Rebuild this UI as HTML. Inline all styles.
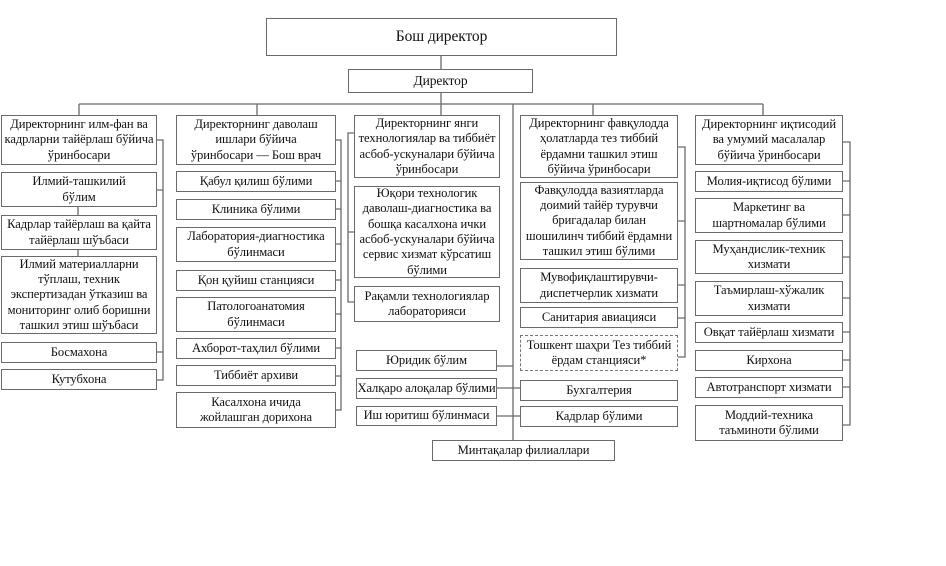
<!DOCTYPE html>
<html><head><meta charset="utf-8"><style>
body{margin:0;background:#fff;}
#c{position:relative;width:946px;height:566px;overflow:hidden;font-family:"Liberation Serif","DejaVu Serif",serif;color:#111;}
.b{position:absolute;box-sizing:border-box;border:1.3px solid #6a6a6a;display:flex;align-items:center;justify-content:center;text-align:center;font-size:12.6px;line-height:15.3px;background:#fff;padding:0;white-space:nowrap;letter-spacing:-0.1px;}
.d{border:1.3px dashed #777;}
svg{position:absolute;left:0;top:0;}
</style></head><body><div id="c">
<svg width="946" height="566" stroke="#6a6a6a" stroke-width="1.3" fill="none">
<path d="M441 56V69M441 93V104M79 104H763M79 104V115M257 104V115M441 104V115M593 104V115M763 104V115"/>
<path d="M513 104V440"/>
<path d="M78 207V215M78 250V256"/>
<path d="M157 140H163V380H157M157 190H163M157 352H163"/>
<path d="M336 140H341V410H336M336 181H341M336 209H341M336 244H341M336 280H341M336 314H341M336 348H341M336 376H341"/>
<path d="M354 133H348V302H354M348 232H354"/>
<path d="M678 147H685V357H678M678 221H685M678 285H685M678 318H685"/>
<path d="M497 366H513M497 388H520M497 416H520"/>
<path d="M843 142H850V425H843M843 181H850M843 215H850M843 257H850M843 298H850M843 332H850M843 360H850M843 387H850"/>
</svg>
<div class="b" style="left:266px;top:18px;width:351px;height:38px;font-size:15.5px">Бош директор</div>
<div class="b" style="left:348px;top:69px;width:185px;height:24px;font-size:13.5px">Директор</div>

<div class="b" style="left:1px;top:115px;width:156px;height:50px">Директорнинг илм-фан ва<br>кадрларни тайёрлаш бўйича<br>ўринбосари</div>
<div class="b" style="left:1px;top:172px;width:156px;height:35px">Илмий-ташкилий<br>бўлим</div>
<div class="b" style="left:1px;top:215px;width:156px;height:35px">Кадрлар тайёрлаш ва қайта<br>тайёрлаш шўъбаси</div>
<div class="b" style="left:1px;top:256px;width:156px;height:78px">Илмий материалларни<br>тўплаш, техник<br>экспертизадан ўтказиш ва<br>мониторинг олиб боришни<br>ташкил этиш шўъбаси</div>
<div class="b" style="left:1px;top:342px;width:156px;height:21px">Босмахона</div>
<div class="b" style="left:1px;top:369px;width:156px;height:21px">Кутубхона</div>

<div class="b" style="left:176px;top:115px;width:160px;height:50px">Директорнинг даволаш<br>ишлари бўйича<br>ўринбосари — Бош врач</div>
<div class="b" style="left:176px;top:171px;width:160px;height:21px">Қабул қилиш бўлими</div>
<div class="b" style="left:176px;top:199px;width:160px;height:21px">Клиника бўлими</div>
<div class="b" style="left:176px;top:227px;width:160px;height:35px">Лаборатория-диагностика<br>бўлинмаси</div>
<div class="b" style="left:176px;top:270px;width:160px;height:21px">Қон қуйиш станцияси</div>
<div class="b" style="left:176px;top:297px;width:160px;height:35px">Патологоанатомия<br>бўлинмаси</div>
<div class="b" style="left:176px;top:338px;width:160px;height:21px">Ахборот-таҳлил бўлими</div>
<div class="b" style="left:176px;top:365px;width:160px;height:21px">Тиббиёт архиви</div>
<div class="b" style="left:176px;top:392px;width:160px;height:36px">Касалхона ичида<br>жойлашган дорихона</div>

<div class="b" style="left:354px;top:115px;width:146px;height:63px">Директорнинг янги<br>технологиялар ва тиббиёт<br>асбоб-ускуналари бўйича<br>ўринбосари</div>
<div class="b" style="left:354px;top:186px;width:146px;height:92px">Юқори технологик<br>даволаш-диагностика ва<br>бошқа касалхона ички<br>асбоб-ускуналари бўйича<br>сервис хизмат кўрсатиш<br>бўлими</div>
<div class="b" style="left:354px;top:286px;width:146px;height:36px">Рақамли технологиялар<br>лабораторияси</div>

<div class="b" style="left:520px;top:115px;width:158px;height:63px">Директорнинг фавқулодда<br>ҳолатларда тез тиббий<br>ёрдамни ташкил этиш<br>бўйича ўринбосари</div>
<div class="b" style="left:520px;top:182px;width:158px;height:78px">Фавқулодда вазиятларда<br>доимий тайёр турувчи<br>бригадалар билан<br>шошилинч тиббий ёрдамни<br>ташкил этиш бўлими</div>
<div class="b" style="left:520px;top:268px;width:158px;height:35px">Мувофиқлаштирувчи-<br>диспетчерлик хизмати</div>
<div class="b" style="left:520px;top:307px;width:158px;height:21px">Санитария авиацияси</div>
<div class="b d" style="left:520px;top:335px;width:158px;height:36px">Тошкент шаҳри Тез тиббий<br>ёрдам станцияси*</div>

<div class="b" style="left:356px;top:350px;width:141px;height:21px">Юридик бўлим</div>
<div class="b" style="left:356px;top:378px;width:141px;height:21px">Халқаро алоқалар бўлими</div>
<div class="b" style="left:356px;top:406px;width:141px;height:20px">Иш юритиш бўлинмаси</div>
<div class="b" style="left:520px;top:380px;width:158px;height:21px">Бухгалтерия</div>
<div class="b" style="left:520px;top:406px;width:158px;height:21px">Кадрлар бўлими</div>
<div class="b" style="left:432px;top:440px;width:183px;height:21px">Минтақалар филиаллари</div>

<div class="b" style="left:695px;top:115px;width:148px;height:50px">Директорнинг иқтисодий<br>ва умумий масалалар<br>бўйича ўринбосари</div>
<div class="b" style="left:695px;top:171px;width:148px;height:21px">Молия-иқтисод бўлими</div>
<div class="b" style="left:695px;top:198px;width:148px;height:35px">Маркетинг ва<br>шартномалар бўлими</div>
<div class="b" style="left:695px;top:240px;width:148px;height:34px">Муҳандислик-техник<br>хизмати</div>
<div class="b" style="left:695px;top:281px;width:148px;height:35px">Таъмирлаш-хўжалик<br>хизмати</div>
<div class="b" style="left:695px;top:322px;width:148px;height:21px">Овқат тайёрлаш хизмати</div>
<div class="b" style="left:695px;top:350px;width:148px;height:21px">Кирхона</div>
<div class="b" style="left:695px;top:377px;width:148px;height:21px">Автотранспорт хизмати</div>
<div class="b" style="left:695px;top:405px;width:148px;height:36px">Моддий-техника<br>таъминоти бўлими</div>
</div></body></html>
